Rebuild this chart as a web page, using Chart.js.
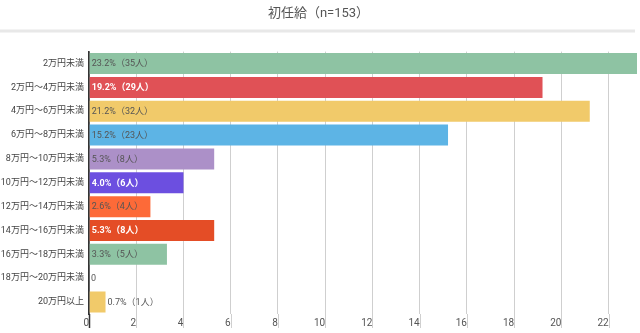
<!DOCTYPE html>
<html>
<head>
<meta charset="utf-8">
<script src="https://cdn.jsdelivr.net/npm/chart.js@4"></script>
<style>
  html, body { margin: 0; padding: 0; background: #fff; }
  #wrap { width: 640px; height: 333px; }
</style>
</head>
<body>
<div id="wrap"><canvas id="myChart" width="640" height="333"></canvas></div>
<script>
// カテゴリ・値
const categories = [
    '2万円未満', '2万円～4万円未満', '4万円～6万円未満', '6万円～8万円未満',
    '8万円～10万円未満', '10万円～12万円未満', '12万円～14万円未満',
    '14万円～16万円未満', '16万円～18万円未満', '18万円～20万円未満', '20万円以上'
];
const percents = [23.2, 19.2, 21.2, 15.2, 5.3, 4.0, 2.6, 5.3, 3.3, 0, 0.7];
const counts = [35, 29, 32, 23, 8, 6, 4, 8, 5, 0, 1];
const tickValues = [0, 2, 4, 6, 8, 10, 12, 14, 16, 18, 20, 22];

const barColors = ['#8ec3a3', '#e05156', '#f1ca6a', '#5db4e5', '#ac90c8', '#6c4fe0',
    '#fd6a38', '#e44d26', '#8ec3a3', '#5db4e5', '#f1ca6a'];
const whiteText = [false, true, false, false, false, true, false, true, false, false, false];

const FONT = 'Roboto, "Noto Sans CJK JP", sans-serif';

// タイトル下の線
const separator = {
    id: 'separator',
    beforeDraw(chart) {
        const ctx = chart.ctx;
        ctx.save();
        ctx.fillStyle = '#e8e8e8';
        ctx.fillRect(0, 29.5, 635, 3);
        ctx.restore();
    }
};

// 目盛り線を下に少し伸ばす
const tickLines = {
    id: 'tickLines',
    afterDraw(chart) {
        const ctx = chart.ctx;
        const xs = chart.scales.x;
        const bottom = chart.chartArea.bottom;
        ctx.save();
        tickValues.forEach(function(v, i) {
            const x = Math.round(xs.getPixelForValue(v)) + 0.5;
            ctx.strokeStyle = i === 0 ? '#333' : '#cfcfcf';
            ctx.lineWidth = i === 0 ? 1.5 : 1;
            ctx.beginPath();
            ctx.moveTo(x, bottom);
            ctx.lineTo(x, bottom + 14);
            ctx.stroke();
        });
        ctx.restore();
    }
};

// バーの中のラベル
const valueLabels = {
    id: 'valueLabels',
    afterDatasetsDraw(chart) {
        const ctx = chart.ctx;
        const meta = chart.getDatasetMeta(0);
        ctx.save();
        ctx.textBaseline = 'middle';
        ctx.textAlign = 'left';
        meta.data.forEach(function(bar, i) {
            const v = percents[i];
            const text = v === 0 ? '0' : v.toFixed(1) + '%（' + counts[i] + '人）';
            ctx.font = (whiteText[i] ? 'bold ' : '') + '9px ' + FONT;
            const w = ctx.measureText(text).width;
            const barW = bar.x - bar.base;
            let x, color;
            if (v !== 0 && w + 2 > barW) {
                x = bar.x + 2;
                color = '#555';
            } else {
                x = bar.base + 2;
                color = whiteText[i] ? '#fff' : '#555';
            }
            ctx.fillStyle = color;
            ctx.fillText(text, x, bar.y + 0.5);
        });
        ctx.restore();
    }
};

const config = {
    type: 'bar',
    data: {
        labels: categories,
        datasets: [{
            data: percents,
            backgroundColor: barColors,
            borderWidth: 0,
            categoryPercentage: 0.88,
            barPercentage: 1
        }]
    },
    options: {
        indexAxis: 'y',
        responsive: false,
        animation: false,
        layout: { padding: { left: 0, right: 3, top: 0, bottom: 1 } },
        scales: {
            x: {
                min: 0,
                max: 23.2,
                afterBuildTicks(axis) {
                    axis.ticks = tickValues.map(function(v) { return { value: v }; });
                },
                grid: {
                    color: function(c) { return c.index === 0 ? '#333' : '#cfcfcf'; },
                    lineWidth: function(c) { return c.index === 0 ? 1.5 : 1; },
                    drawTicks: false
                },
                border: { display: false },
                ticks: {
                    align: 'end',
                    padding: 3,
                    color: '#555',
                    font: { family: FONT, size: 10 }
                }
            },
            y: {
                afterFit(axis) {
                    axis.width = 89;
                },
                grid: { display: false, drawTicks: false },
                border: { display: true, color: '#333', width: 1.5 },
                ticks: {
                    padding: 5,
                    color: '#444',
                    autoSkip: false,
                    font: { family: FONT, size: 9 }
                }
            }
        },
        plugins: {
            legend: { display: false },
            tooltip: { enabled: false },
            title: {
                display: true,
                text: '初任給（n=153）',
                color: '#555',
                font: { family: FONT, size: 13, weight: 'normal' },
                padding: { top: 6, bottom: 30 }
            }
        }
    },
    plugins: [separator, tickLines, valueLabels]
};

new Chart(document.getElementById('myChart'), config);
</script>
</body>
</html>
